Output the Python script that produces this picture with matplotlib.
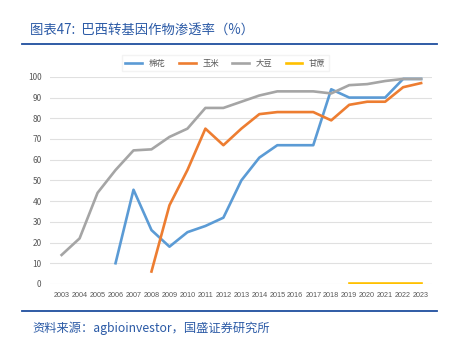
import numpy as np
import matplotlib
matplotlib.use("Agg")
import matplotlib.pyplot as plt

plt.rcParams['font.family'] = ['Noto Sans CJK SC', 'DejaVu Sans']

years = list(range(2003, 2024))
cotton_years = list(range(2006, 2024))
cotton = [10, 45.5, 26, 18, 25, 28, 32, 50, 61, 67, 67, 67, 94, 90, 90, 90, 99, 99]
corn_years = list(range(2008, 2024))
corn = [6, 38, 55, 75, 67, 75, 82, 83, 83, 83, 79, 86.5, 88, 88, 95, 97]
soy = [14, 22, 44, 55, 64.5, 65, 71, 75, 85, 85, 88, 91, 93, 93, 93, 92, 96, 96.5, 98, 99, 99]
cane_years = list(range(2019, 2024))
cane = [0.5, 0.5, 0.5, 0.5, 0.5]

labels = ['棉花', '玉米', '大豆', '甘蔗']
colors = ['#5B9BD5', '#ED7D31', '#A5A5A5', '#FFC000']

fig = plt.figure(figsize=(4.58, 3.51), dpi=100)
ax = fig.add_axes([0.109, 0.191, 0.834, 0.59])

ax.plot(cotton_years, cotton, color=colors[0], lw=1.9, label=labels[0])
ax.plot(corn_years, corn, color=colors[1], lw=1.9, label=labels[1])
ax.plot(years, soy, color=colors[2], lw=1.9, label=labels[2])
ax.plot(cane_years, cane, color=colors[3], lw=1.9, label=labels[3])

ax.set_ylim(0, 100)
ax.set_xlim(2002.35, 2023.6)
ax.set_yticks(range(0, 101, 10))
ax.set_xticks(years)
ax.set_xticklabels([str(y) for y in years], fontsize=5.2, color='#595959',
                   family=['Liberation Sans', 'DejaVu Sans'])
ax.tick_params(axis='y', labelsize=6, colors='#595959', length=0, pad=6)
ax.tick_params(axis='x', length=0, pad=6)
ax.grid(axis='y', color='#E0E0E0', lw=0.8)
for s in ax.spines.values():
    s.set_visible(False)

leg = ax.legend(loc='lower center', bbox_to_anchor=(0.46, 1.02), ncol=4, frameon=True,
                fontsize=6, handlelength=2.0, columnspacing=1.6, borderaxespad=0.2,
                fancybox=False, edgecolor='#F0F0F0')
for t in leg.get_texts():
    t.set_color('#595959')

# title and source
fig.text(0.065, 0.905, '图表47:  巴西转基因作物渗透率（%）', fontsize=9.6, color='#2b5aa6',
         style='italic')
fig.add_artist(plt.Line2D([0.048, 0.955], [0.875, 0.875], color='#1f4e9e', lw=1.3))
fig.add_artist(plt.Line2D([0.048, 0.955], [0.113, 0.113], color='#1f4e9e', lw=1.3))
fig.text(0.07, 0.055, '资料来源：agbioinvestor，国盛证券研究所', fontsize=8.8, color='#2b5aa6',
         style='italic')

fig.savefig('out.png', dpi=100)
